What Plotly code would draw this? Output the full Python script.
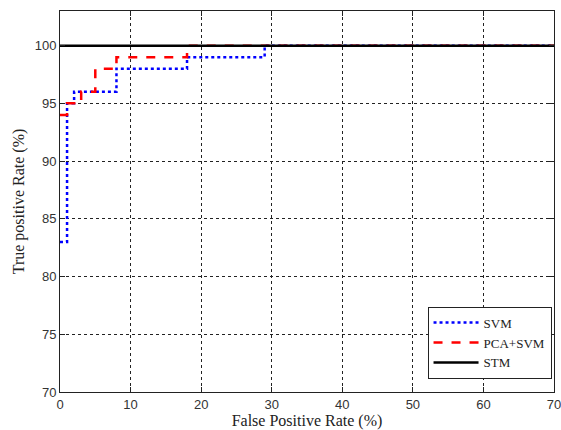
import plotly.graph_objects as go

# Data
svm_fpr = [0, 1, 2, 8, 18, 29, 70]
svm_tpr = [83, 95, 96, 98, 99, 100, 100]
pca_fpr = [0, 1, 3, 5, 8, 18, 70]
pca_tpr = [94, 95, 96, 98, 99, 100, 100]
stm_fpr = [0, 70]
stm_tpr = [100, 100]
x_ticks = [0, 10, 20, 30, 40, 50, 60, 70]
y_ticks = [70, 75, 80, 85, 90, 95, 100]

fig = go.Figure()
fig.add_trace(go.Scatter(x=svm_fpr, y=svm_tpr, mode="lines", name="SVM",
                         line=dict(color="#0000ff", width=2.5, dash="dot", shape="hv")))
fig.add_trace(go.Scatter(x=pca_fpr, y=pca_tpr, mode="lines", name="PCA+SVM",
                         line=dict(color="#ff0000", width=2.5, dash="dash", shape="hv")))
fig.add_trace(go.Scatter(x=stm_fpr, y=stm_tpr, mode="lines", name="STM",
                         line=dict(color="#000000", width=2.5)))

axis_common = dict(
    showline=True, linecolor="#222", linewidth=1, mirror="ticks",
    ticks="inside", ticklen=5, tickcolor="#222",
    showgrid=True, gridcolor="#222", gridwidth=1, griddash="dot",
    zeroline=False, ticklabeloverflow="allow", automargin=False,
    tickfont=dict(family="Liberation Sans, Arial", size=13, color="#333"),
)

fig.update_xaxes(range=[0, 70], tickvals=x_ticks,
                 title=dict(text="False Positive Rate (%)", standoff=2,
                            font=dict(family="Liberation Serif, Times New Roman", size=16, color="#222")),
                 **axis_common)
fig.update_yaxes(range=[70, 103], tickvals=y_ticks,
                 title=dict(text="True positive Rate (%)", standoff=6,
                            font=dict(family="Liberation Serif, Times New Roman", size=16, color="#222")),
                 **axis_common)

fig.update_layout(
    width=561, height=430,
    margin=dict(l=60, r=7, t=11, b=38),
    paper_bgcolor="white", plot_bgcolor="white",
    showlegend=True,
    legend=dict(x=0.995, y=0.035, xanchor="right", yanchor="bottom",
                bgcolor="white", bordercolor="#222", borderwidth=1,
                font=dict(family="Liberation Serif, Times New Roman", size=13, color="#222"),
                itemwidth=45, tracegroupgap=0),
)

fig.write_html("out.html", config={"displayModeBar": False},
               post_script="document.body.style.margin='0';")
